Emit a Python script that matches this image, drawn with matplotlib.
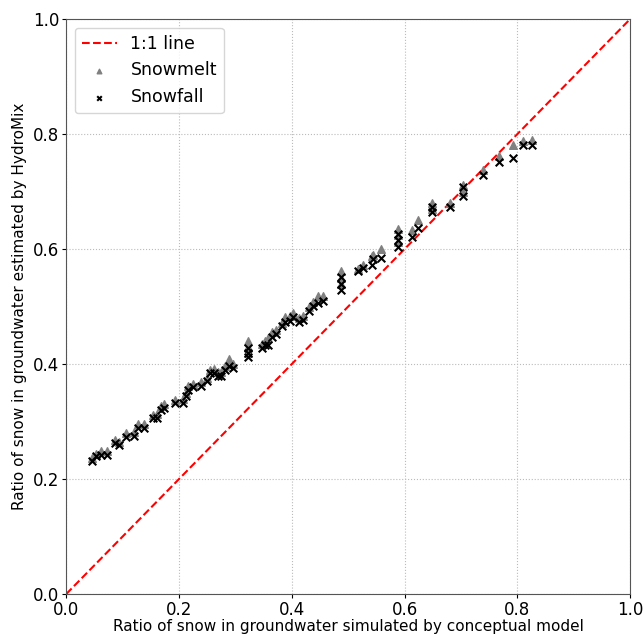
import numpy as np
import matplotlib
matplotlib.use("Agg")
import matplotlib.pyplot as plt

# ratio simulated by the conceptual model (x) and HydroMix estimates (y)
conceptual = [0.046, 0.053, 0.062, 0.073, 0.087, 0.094, 0.106, 0.121, 0.128, 0.138,
              0.154, 0.161, 0.168, 0.174, 0.193, 0.207, 0.213, 0.216, 0.225, 0.239,
              0.250, 0.255, 0.262, 0.270, 0.275, 0.282, 0.289, 0.296, 0.323, 0.323,
              0.323, 0.348, 0.353, 0.358, 0.365, 0.372, 0.383, 0.388, 0.397, 0.402,
              0.413, 0.420, 0.431, 0.438, 0.447, 0.456, 0.488, 0.488, 0.488, 0.518,
              0.527, 0.543, 0.544, 0.559, 0.589, 0.589, 0.589, 0.613, 0.624, 0.649,
              0.649, 0.681, 0.704, 0.704, 0.739, 0.768, 0.793, 0.810, 0.826]
snowfall = [0.231, 0.240, 0.242, 0.242, 0.263, 0.259, 0.273, 0.275, 0.289, 0.289,
            0.306, 0.306, 0.320, 0.323, 0.332, 0.332, 0.344, 0.355, 0.360, 0.362,
            0.370, 0.384, 0.384, 0.379, 0.379, 0.390, 0.397, 0.393, 0.412, 0.420,
            0.428, 0.428, 0.433, 0.433, 0.447, 0.452, 0.466, 0.473, 0.475, 0.482,
            0.473, 0.477, 0.492, 0.501, 0.506, 0.510, 0.529, 0.539, 0.551, 0.562,
            0.567, 0.572, 0.583, 0.584, 0.603, 0.616, 0.626, 0.621, 0.637, 0.664,
            0.673, 0.673, 0.692, 0.708, 0.729, 0.751, 0.758, 0.781, 0.781]
snowmelt = [0.236, 0.244, 0.248, 0.249, 0.268, 0.265, 0.280, 0.282, 0.295, 0.296,
            0.312, 0.313, 0.327, 0.330, 0.338, 0.340, 0.350, 0.362, 0.366, 0.368,
            0.376, 0.390, 0.391, 0.386, 0.386, 0.397, 0.409, 0.400, 0.420, 0.430,
            0.440, 0.435, 0.440, 0.445, 0.455, 0.460, 0.472, 0.481, 0.483, 0.488,
            0.480, 0.484, 0.500, 0.508, 0.518, 0.519, 0.540, 0.550, 0.562, 0.566,
            0.572, 0.588, 0.590, 0.600, 0.612, 0.625, 0.635, 0.634, 0.650, 0.670,
            0.680, 0.680, 0.700, 0.712, 0.738, 0.762, 0.781, 0.788, 0.790]

fig = plt.figure(figsize=(6.43, 6.36), dpi=100)
ax = fig.add_axes([0.103, 0.066, 0.877, 0.904])

ax.plot([0, 1], [0, 1], "r--", label="1:1 line", zorder=2)
ax.scatter(conceptual, snowmelt, marker="^", color="gray", s=30, label="Snowmelt", zorder=3)
ax.scatter(conceptual, snowfall, marker="x", color="black", s=30, label="Snowfall", zorder=4)

ax.set_xlim(0, 1)
ax.set_ylim(0, 1)
ax.set_xticks(np.arange(0, 1.01, 0.2))
ax.set_yticks(np.arange(0, 1.01, 0.2))
ax.tick_params(labelsize=12, length=3, pad=2)
for sp in ax.spines.values():
    sp.set_color("#555555")
ax.grid(True, linestyle=":", color="#bbbbbb", linewidth=0.8)
ax.set_axisbelow(True)

ax.set_xlabel("Ratio of snow in groundwater simulated by conceptual model", fontsize=11, labelpad=0)
ax.set_ylabel("Ratio of snow in groundwater estimated by HydroMix", fontsize=11, labelpad=4)
ax.legend(loc="upper left", fontsize=12.5, markerscale=0.6)

fig.savefig("out.png", dpi=100)
